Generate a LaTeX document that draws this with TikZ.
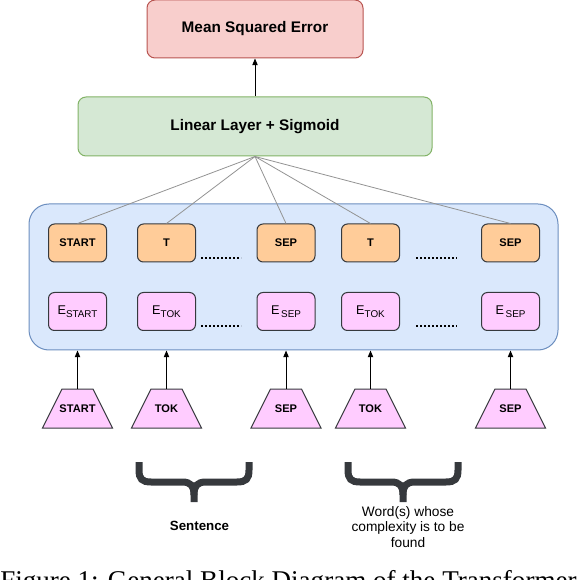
\documentclass[tikz,border=0pt]{standalone}
\usepackage{fontspec}
\setmainfont{Liberation Sans}
\newfontfamily\capfont{Liberation Serif}
\usepackage{tikz}
\usetikzlibrary{arrows.meta, positioning}
\definecolor{msefill}{HTML}{F8CECC}
\definecolor{mseline}{HTML}{B85450}
\definecolor{linfill}{HTML}{D5E8D4}
\definecolor{linline}{HTML}{82B366}
\definecolor{encfill}{HTML}{DAE8FC}
\definecolor{encline}{HTML}{6C8EBF}
\definecolor{tokfill}{HTML}{FFCC99}
\definecolor{pinkfill}{HTML}{FFCCFF}
\definecolor{darkline}{HTML}{36393D}
\newcommand{\emb}[1]{{\fontsize{9.5}{10}\selectfont E}{\fontsize{7.4}{8}\selectfont\raisebox{-2pt}{#1}}}

\begin{document}
\begin{tikzpicture}[x=0.75pt,y=-0.75pt,
  bigbox/.style={draw, line width=0.75pt, rounded corners=6pt, inner sep=0pt,
    font=\fontsize{11.5}{13}\selectfont\bfseries},
  tokbox/.style={draw=darkline, fill=tokfill, line width=0.75pt, rounded corners=4.5pt,
    minimum width=43.5pt, minimum height=28.5pt, inner sep=0pt,
    font=\fontsize{8.3}{9}\selectfont\bfseries},
  embbox/.style={tokbox, fill=pinkfill, font=\normalfont},
  inshape/.style={draw=darkline, fill=pinkfill, line width=0.75pt},
  intext/.style={minimum width=52.5pt, minimum height=29.25pt, inner sep=0pt,
    font=\fontsize{8.3}{9}\selectfont\bfseries},
  fan/.style={draw=gray!85, line width=0.6pt},
  up/.style={draw, line width=0.75pt, -{Triangle[length=5pt,width=4pt]}},
  dots/.style={line width=1.4pt, dash pattern=on 1.4pt off 1.6pt},
  curly/.style={draw=darkline, line width=5.25pt},
  note/.style={align=center, inner sep=0pt, font=\fontsize{10.3}{11.6}\selectfont}
]
\useasboundingbox (0,0) rectangle (588,580);
% Output blocks
\node[bigbox, fill=msefill, draw=mseline, minimum width=162pt, minimum height=43.5pt]
  (mse) at (255,29) {Mean Squared Error};
\node[bigbox, fill=linfill, draw=linline, minimum width=265.5pt, minimum height=44.25pt]
  (lin) at (255,126.5) {Linear Layer + Sigmoid};
\draw[up] (lin.north) -- (mse.south);
% Encoder
\node[draw=encline, fill=encfill, line width=0.75pt, rounded corners=15pt,
  minimum width=396.75pt, minimum height=109.5pt] (enc) at (293.5,277) {};
% Token row
\node[tokbox] (tstart) at (77.5,243) {START};
\node[tokbox] (ttok) at (166.5,243) {T};
\node[tokbox] (tsep) at (286,243) {SEP};
\node[tokbox] (ttokb) at (370.5,243) {T};
\node[tokbox] (tsepb) at (510.5,243) {SEP};
% Embedding row
\node[embbox] (estart) at (77.5,311.5) {\emb{START}};
\node[embbox] (etok) at (166.5,311.5) {\emb{TOK}};
\node[embbox] (esep) at (286,311.5) {\emb{\,SEP}};
\node[embbox] (etokb) at (370.5,311.5) {\emb{TOK}};
\node[embbox] (esepb) at (510.5,311.5) {\emb{\,SEP}};
% Dots
\draw[dots] (201,258) -- (241,258);
\draw[dots] (416,258) -- (457,258);
\draw[dots] (201,326) -- (241,326);
\draw[dots] (416,326) -- (457,326);
% Fan into linear layer
\foreach \t in {tstart,ttok,tsep,ttokb,tsepb}
  \draw[fan] (lin.south) -- (\t.north);
% Inputs
\foreach \n/\x/\t in {istart/77.5/START, itok/166.5/TOK, isep/286/SEP, itokb/370.5/TOK, isepb/510.5/SEP}{
  \draw[inshape] (\x-35,428) -- (\x-15.5,389) -- (\x+15.5,389) -- (\x+35,428) -- cycle;
  \node[intext] (\n) at (\x,408.5) {\t};
  \draw[up] (\n.north) -- (\n.north |- enc.south);
}
% Braces
\foreach \bx in {139,348}{
  \draw[curly] (\bx,462) -- (\bx,470) .. controls (\bx,479) and (\bx+3,482) .. (\bx+12,482)
    -- (\bx+43,482) .. controls (\bx+52,482) and (\bx+55,486) .. (\bx+55,495) -- (\bx+55,502);
  \draw[curly] (\bx+110,462) -- (\bx+110,470) .. controls (\bx+110,479) and (\bx+107,482) .. (\bx+98,482)
    -- (\bx+67,482) .. controls (\bx+58,482) and (\bx+55,486) .. (\bx+55,495);
}
\node[note, font=\fontsize{10}{11.6}\selectfont\bfseries] (sent) at (199.5,526) {Sentence};
\node[note] (word) at (408,527) {Word(s) whose\\complexity is to be\\found};
% Caption
\node[anchor=base west, inner sep=0pt, font=\capfont\fontsize{20.3}{24}\selectfont] (cap) at (0,589)
  {Figure 1: General Block Diagram of the Transformer};
\end{tikzpicture}
\end{document}
